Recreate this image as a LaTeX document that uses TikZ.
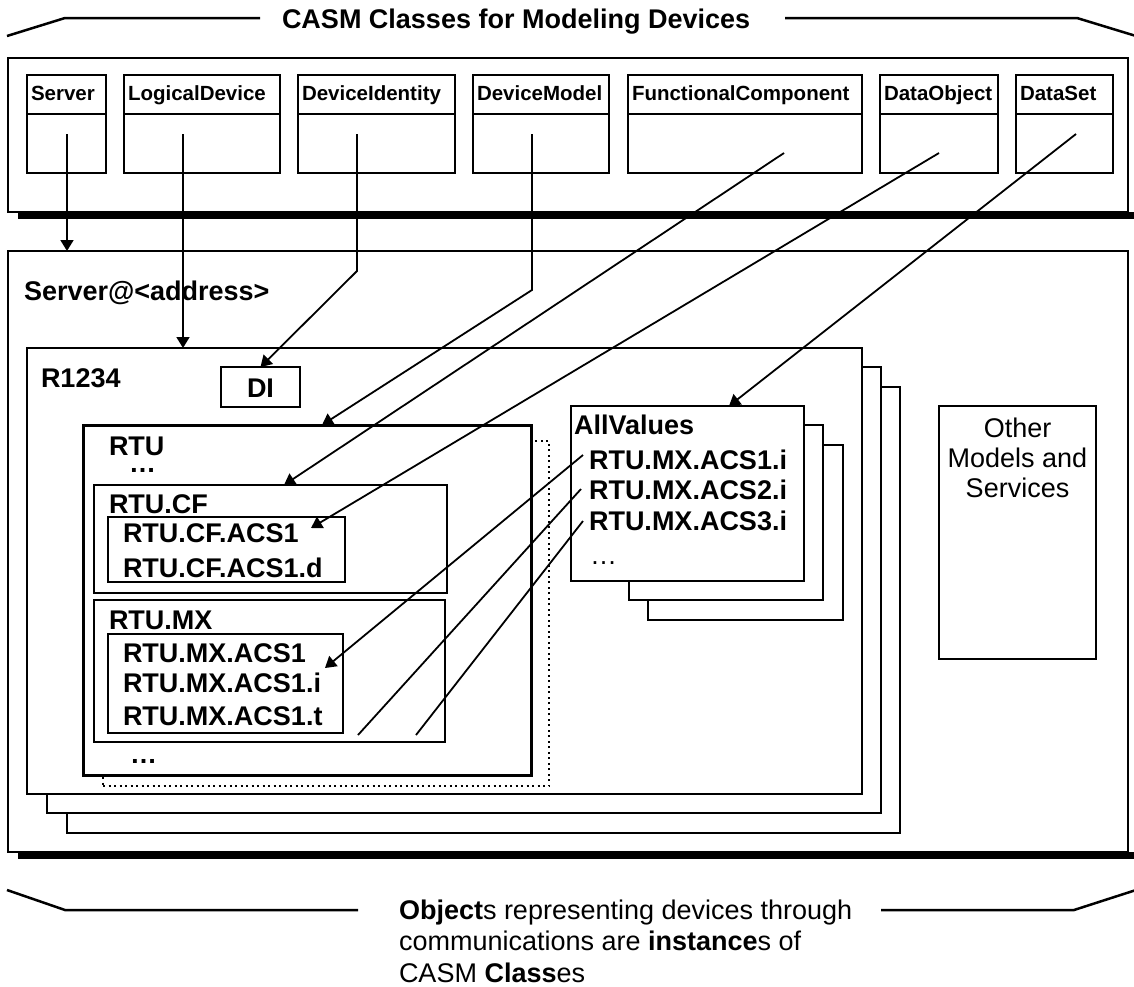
\documentclass[tikz,border=0pt]{standalone}
\usepackage{fontspec}
\setmainfont{Liberation Sans}
\usetikzlibrary{arrows.meta,calc}
\newcommand\rbox[6]{\node[#6, anchor=north west, inner sep=0pt, outer sep=0pt, minimum width={#4-#2}, minimum height={#5-#3}] (#1) at (#2,#3) {};}
\newcommand\clsbox[4]{%
  \rbox{#1H}{#2}{75}{#3}{114}{cls}
  \rbox{#1B}{#2}{114}{#3}{173}{cls}
  \node[hdr] (#1T) at (#2+4,100) {#4};}
\begin{document}
\begin{tikzpicture}[x=1pt,y=-1pt,
  every node/.style={inner sep=0pt, outer sep=0pt},
  cls/.style={draw, line width=2.6pt, fill=white},
  thinb/.style={draw, line width=1.5pt, fill=white},
  midb/.style={draw, line width=2.2pt, fill=white},
  heavyb/.style={draw, line width=3pt, fill=white},
  conn/.style={line width=1.8pt},
  arr/.style={conn, -{Triangle[length=11pt,width=13pt]}},
  hdr/.style={font=\fontsize{20.5}{24}\selectfont\bfseries, anchor=base west},
  big/.style={font=\fontsize{27}{31}\selectfont\bfseries, anchor=base west},
  reg/.style={font=\fontsize{27}{31}\selectfont, anchor=base west},
  titleline/.style={line width=2.5pt, line join=miter}
]
\useasboundingbox (0,0) rectangle (1134,986);

% ---------- title ----------
\node[font=\fontsize{27}{31}\selectfont\bfseries, anchor=base west] (title) at (282,28) {CASM Classes for Modeling Devices};
\coordinate (tl1) at (7,36); \coordinate (tl2) at (65,18); \coordinate (tl3) at (260,18);
\coordinate (tr1) at (785,18); \coordinate (tr2) at (1077,18); \coordinate (tr3) at (1136,36);
\draw[titleline] (tl1) -- (tl2) -- (tl3);
\draw[titleline] (tr1) -- (tr2) -- (tr3);

% ---------- top panel ----------
\rbox{toppanel}{8}{58}{1128}{212}{thinb}
\fill (18,212) rectangle (1136,219);

\clsbox{srv}{27}{106}{Server}
\clsbox{ld}{124}{280}{LogicalDevice}
\clsbox{dev}{298}{455}{DeviceIdentity}
\clsbox{dm}{473}{609}{DeviceModel}
\clsbox{fc}{628}{862}{FunctionalComponent}
\clsbox{do}{880}{998}{DataObject}
\clsbox{ds}{1016}{1113}{DataSet}

% ---------- server panel ----------
\rbox{srvpanel}{8}{251}{1128}{852}{thinb}
\fill (18,852) rectangle (1136,859);
\node[big] (srvlbl) at (24,300) {Server@<address>};

% logical device stack
\rbox{ldc}{67}{387}{900}{833}{thinb}
\rbox{ldb}{47}{367}{881}{813}{thinb}
\rbox{lda}{27}{348}{862}{794}{thinb}
\node[big] (r1234) at (41,387) {R1234};

\rbox{di}{221}{367}{300}{407}{draw, line width=2pt, fill=white}
\node[big, anchor=base] (dit) at (260.5,397) {DI};

% RTU
\rbox{dotbox}{103}{441}{549}{786}{draw, line width=2pt, dash pattern={on 2pt off 3.5pt}}
\rbox{rtu}{83}{425}{531}{775}{heavyb}
\node[big] (rtut) at (109,455) {RTU};
\node[big] (rtud1) at (129,472) {…};

\rbox{cf}{94}{485}{447}{593}{midb}
\node[big] (cft) at (109,513) {RTU.CF};
\rbox{cfin}{108}{517}{345}{582}{midb}
\node[big] (cf1) at (123,542) {RTU.CF.ACS1};
\node[big] (cf2) at (123,577) {RTU.CF.ACS1.d};

\rbox{mx}{94}{600}{445}{742}{midb}
\node[big] (mxt) at (109,629) {RTU.MX};
\rbox{mxin}{108}{634}{343}{733}{midb}
\node[big] (mx1) at (123,662) {RTU.MX.ACS1};
\node[big] (mx2) at (123,692) {RTU.MX.ACS1.i};
\node[big] (mx3) at (123,725) {RTU.MX.ACS1.t};
\node[big] (rtud2) at (130,763) {…};

% AllValues stack
\rbox{avc}{648}{445}{843}{620}{draw, line width=2pt, fill=white}
\rbox{avb}{629}{425}{823}{600}{draw, line width=2pt, fill=white}
\rbox{ava}{571}{406}{804}{581}{draw, line width=2.5pt, fill=white}
\node[big] (avt) at (574,434) {AllValues};
\node[big] (av1) at (589,469) {RTU.MX.ACS1.i};
\node[big] (av2) at (589,499) {RTU.MX.ACS2.i};
\node[big] (av3) at (589,530) {RTU.MX.ACS3.i};
\node[reg] (avd) at (590,564) {…};

% Other
\rbox{other}{939}{406}{1096}{659}{draw, line width=2.5pt, fill=white}
\node[reg, anchor=base] (o1) at (1017.5,437) {Other};
\node[reg, anchor=base] (o2) at (1017.5,467) {Models and};
\node[reg, anchor=base] (o3) at (1017.5,497) {Services};

% ---------- connectors ----------
\coordinate (sS) at (67,134);
\coordinate (sLD) at (183,134);
\coordinate (sDI) at (357,134); \coordinate (bDI) at (357,271);
\coordinate (sDM) at (532,134); \coordinate (bDM) at (532,290);
\coordinate (sFC) at (784,153);
\coordinate (sDO) at (939,153);
\coordinate (sDS) at (1076,134);
\coordinate (tRTU) at ($(rtu.north west)+(239,0)$);
\coordinate (tCF) at ($(cf.north west)+(190,0)$);
\coordinate (tACS) at (311,528);
\coordinate (tAV) at ($(ava.north west)+(158,0)$);
\coordinate (e1) at (583,455); \coordinate (t1) at (325,668);
\coordinate (e2) at (581,489); \coordinate (t2) at (358,735);
\coordinate (e3) at (583,521); \coordinate (t3) at (416,735);

\draw[arr] (sS) -- (sS |- srvpanel.north);
\draw[arr] (sLD) -- (sLD |- lda.north);
\draw[arr] (sDI) -- (bDI) -- (di.north);
\draw[arr] (sDM) -- (bDM) -- (tRTU);
\draw[arr] (sFC) -- (tCF);
\draw[arr] (sDO) -- (tACS);
\draw[arr] (sDS) -- (tAV);
\draw[arr] (e1) -- (t1);
\draw[conn] (e2) -- (t2);
\draw[conn] (e3) -- (t3);

% ---------- bottom caption ----------
\coordinate (bl1) at (7,890); \coordinate (bl2) at (65,910); \coordinate (bl3) at (358,910);
\coordinate (br1) at (881,910); \coordinate (br2) at (1074,910); \coordinate (br3) at (1136,890);
\draw[titleline] (bl1) -- (bl2) -- (bl3);
\draw[titleline] (br1) -- (br2) -- (br3);
\node[reg] (c1) at (399,919) {\textbf{Object}s representing devices through};
\node[reg] (c2) at (399,950) {communications are \textbf{instance}s of};
\node[reg] (c3) at (399,982) {CASM \textbf{Class}es};
\end{tikzpicture}
\end{document}
